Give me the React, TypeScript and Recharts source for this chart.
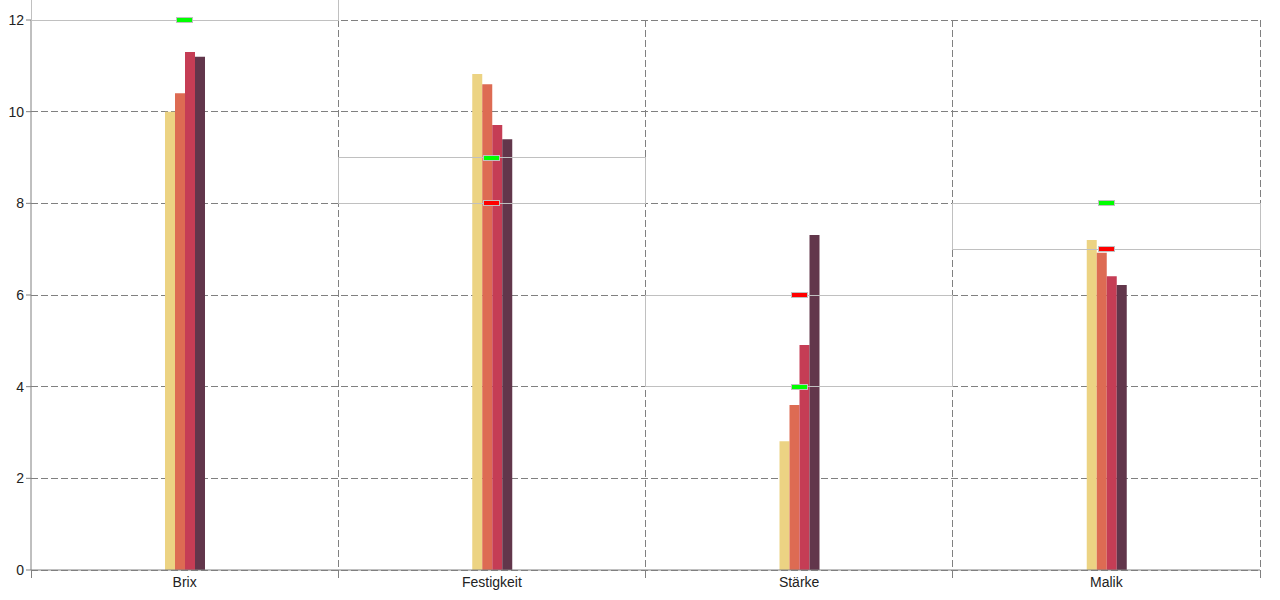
import { ComposedChart, Bar, Scatter, XAxis, YAxis, CartesianGrid, ReferenceArea } from "recharts";

const categories = ["Brix", "Festigkeit", "Stärke", "Malik"];
const series1 = [10.0, 10.82, 2.81, 7.2];
const series2 = [10.4, 10.6, 3.6, 6.92];
const series3 = [11.3, 9.71, 4.91, 6.41];
const series4 = [11.2, 9.4, 7.31, 6.22];
const greenTargets = [12, 9, 4, 8];
const redTargets = [13, 8, 6, 7];
const yTicks = [0, 2, 4, 6, 8, 10, 12];

const barColors = ["#ecd383", "#dd6b53", "#c53d55", "#62364b"];

const W = 1280;
const H = 600;
const M = { top: 20, right: 20, left: 0, bottom: 0 };
const Y_AXIS_W = 31;
const X_AXIS_H = 30;
const HALF_BAND = (W - M.left - M.right - Y_AXIS_W) / categories.length / 2;

const data = categories.map((name, i) => ({
  name,
  s1: series1[i],
  s2: series2[i],
  s3: series3[i],
  s4: series4[i],
  green: greenTargets[i],
  red: redTargets[i],
}));

function marker(fill: string) {
  return (p: any) => {
    if (p.cx == null || p.cy == null) return <g />;
    return (
      <rect
        x={p.cx - 8}
        y={p.cy - 2.5}
        width={16}
        height={5}
        fill={fill}
        stroke="#c0c0c0"
        strokeWidth={1}
        shapeRendering="crispEdges"
      />
    );
  };
}

function CatTick(p: any) {
  const { x, y, payload, index } = p;
  return (
    <g shapeRendering="crispEdges">
      <line x1={x - HALF_BAND} x2={x - HALF_BAND} y1={y} y2={y + 8} stroke="#808080" />
      {index === categories.length - 1 && (
        <line x1={x + HALF_BAND} x2={x + HALF_BAND} y1={y} y2={y + 8} stroke="#808080" />
      )}
      <text x={x} y={y + 17} textAnchor="middle" fontSize={14} fill="#222">
        {payload.value}
      </text>
    </g>
  );
}

export default function App() {
  return (
    <div style={{ position: "absolute", left: 0, top: 0, fontFamily: "'Liberation Sans', Arial, sans-serif" }}>
      <ComposedChart width={W} height={H} data={data} margin={M} barGap={0} barCategoryGap={0}>
        <CartesianGrid
          stroke="#808080"
          strokeDasharray="7 3"
          shapeRendering="crispEdges"
          verticalCoordinatesGenerator={({ offset }: any) =>
            [1, 2, 3, 4].map((i) => offset.left + (offset.width * i) / 4)
          }
        />
        <XAxis
          dataKey="name"
          height={X_AXIS_H}
          stroke="#808080"
          tickLine={false}
          tickSize={0}
          tickMargin={0}
          tick={<CatTick />}
          interval={0}
        />
        <YAxis
          width={Y_AXIS_W}
          domain={[0, 12]}
          ticks={yTicks}
          stroke="#808080"
          tickSize={5}
          tick={{ fontSize: 14, fill: "#222" }}
        />
        <Bar dataKey="s1" fill={barColors[0]} barSize={10} isAnimationActive={false} />
        <Bar dataKey="s2" fill={barColors[1]} barSize={10} isAnimationActive={false} />
        <Bar dataKey="s3" fill={barColors[2]} barSize={10} isAnimationActive={false} />
        <Bar dataKey="s4" fill={barColors[3]} barSize={10} isAnimationActive={false} />
      </ComposedChart>

      {/* overlay: target boxes and markers, drawn above grid and bars */}
      <div style={{ position: "absolute", left: 0, top: 0 }}>
        <ComposedChart
          width={W}
          height={H}
          data={data}
          margin={{ top: M.top, right: M.right, left: M.left + Y_AXIS_W, bottom: M.bottom + X_AXIS_H }}
        >
          <XAxis dataKey="name" type="category" scale="band" hide />
          <YAxis yAxisId="pts" domain={[0, 12]} hide />
          <YAxis yAxisId="clip" domain={[0, 12]} allowDataOverflow hide />
          {categories.map((c, i) => (
            <ReferenceArea
              key={c}
              yAxisId="clip"
              x1={c}
              x2={c}
              y1={Math.min(greenTargets[i], redTargets[i])}
              y2={Math.max(greenTargets[i], redTargets[i])}
              fill="none"
              fillOpacity={0}
              stroke="#c0c0c0"
              strokeWidth={1}
              shapeRendering="crispEdges"
              ifOverflow="visible"
            />
          ))}
          <Scatter yAxisId="pts" dataKey="green" shape={marker("#00ff00")} isAnimationActive={false} />
          <Scatter yAxisId="clip" dataKey="red" shape={marker("#ff0000")} isAnimationActive={false} />
        </ComposedChart>
      </div>
    </div>
  );
}
